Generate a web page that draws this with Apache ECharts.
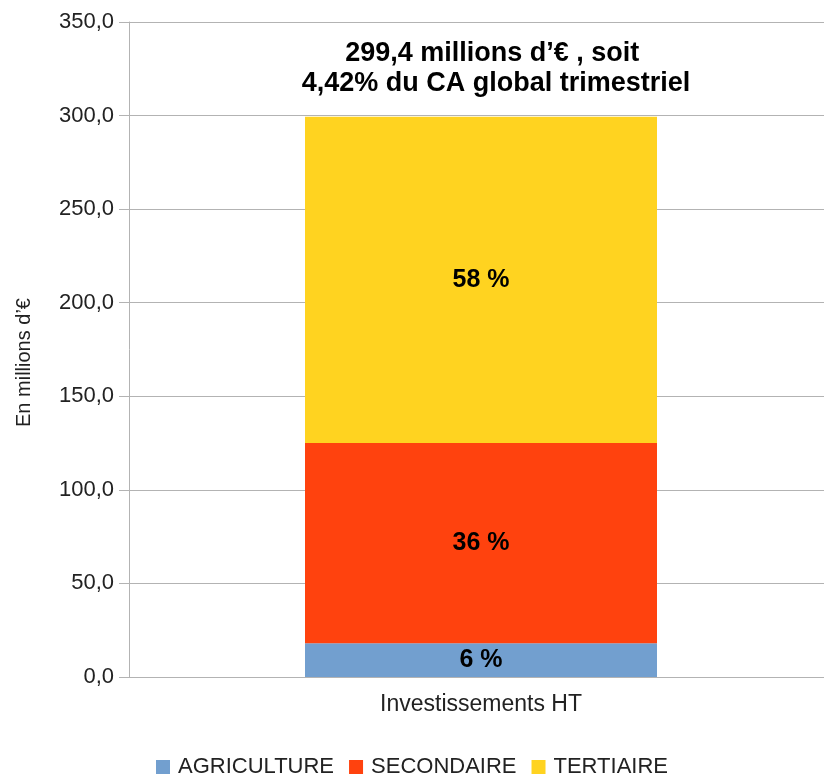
<!DOCTYPE html>
<html><head><meta charset="utf-8">
<script src="https://cdn.jsdelivr.net/npm/echarts@6/dist/echarts.min.js"></script>
<style>html,body{margin:0;padding:0;background:#fff}#c{width:824px;height:776px}</style>
</head><body><div id="c"></div>
<script>
var categories = ['Investissements HT'];
var seriesNames = ['AGRICULTURE', 'SECONDAIRE', 'TERTIAIRE'];
var agriculture = [18.0];
var secondaire = [107.0];
var tertiaire = [174.4];
var shareLabels = ['6 %', '36 %', '58 %'];
var colors = ['#729fcf', '#ff420e', '#ffd320'];
var titleLines = ["299,4 millions d\u2019\u20ac , soit ", "4,42% du CA global trimestriel"];
var yName = "En millions d\u2019\u20ac";

var chart = echarts.init(document.getElementById('c'), null, {renderer: 'canvas'});
var font = 'Liberation Sans';
var values = [agriculture, secondaire, tertiaire];
var series = seriesNames.map(function (n, i) {
  return {
    name: n, type: 'bar', stack: 'total', data: values[i], barWidth: '50%',
    itemStyle: {color: colors[i]},
    label: {show: true, position: 'inside', formatter: shareLabels[i],
      color: '#000', fontWeight: 'bold', fontSize: 25, fontFamily: font}
  };
});
chart.setOption({
  animation: false,
  textStyle: {fontFamily: font},
  title: {text: titleLines.join('\n'), left: 491, top: 34, textAlign: 'center',
    textStyle: {fontFamily: font, fontWeight: 'bold', fontSize: 27, color: '#000', lineHeight: 30}},
  grid: {left: 129, width: 704, top: 22, height: 655, containLabel: false, outerBoundsMode: 'none'},
  legend: {top: 751, left: 'center', itemWidth: 14, itemHeight: 14, itemGap: 15,
    icon: 'rect', textStyle: {fontFamily: font, fontSize: 22, color: '#222', padding: [0, 0, 0, 3]},
    data: seriesNames},
  xAxis: {type: 'category', data: categories,
    axisLine: {lineStyle: {color: '#b3b3b3', width: 1}},
    axisTick: {show: false},
    axisLabel: {fontFamily: font, fontSize: 23, color: '#222', margin: 16}},
  yAxis: {type: 'value', min: 0, max: 350, interval: 50,
    name: yName, nameLocation: 'middle', nameGap: 95, nameRotate: 90,
    nameTextStyle: {fontFamily: font, fontSize: 20, color: '#222', padding: [0, 26, 0, 0]},
    axisLine: {show: true, lineStyle: {color: '#b3b3b3'}},
    axisTick: {show: true, length: 10, lineStyle: {color: '#b3b3b3'}},
    splitLine: {lineStyle: {color: '#b3b3b3'}},
    axisLabel: {fontFamily: font, fontSize: 22, color: '#222', margin: 15,
      formatter: function (v) { return v.toFixed(1).replace('.', ','); }}},
  series: series
});
</script></body></html>
